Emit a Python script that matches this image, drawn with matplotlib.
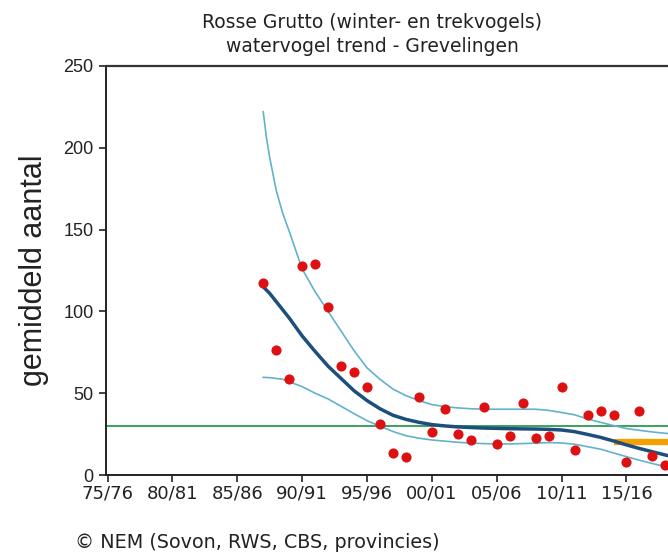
import matplotlib
matplotlib.use("Agg")
import matplotlib.pyplot as plt

# yearly counts (season start year)
YEARS = list(range(1987, 2019))
COUNTS = [117.5, 76.4, 58.7, 127.8, 129.0, 102.9, 66.6, 62.8, 54.0, 31.3,
          13.6, 11.2, 47.5, 26.3, 40.2, 25.0, 21.4, 41.4, 19.0, 23.8,
          44.2, 22.6, 23.8, 54.0, 15.3, 36.6, 38.9, 36.6, 7.8, 38.9,
          11.6, 6.2]

# trend with upper / lower band
TREND_X = [1987, 1987.25, 1987.5, 1988, 1988.5, 1989, 1990, 1991, 1992, 1993, 1994,
           1995, 1996, 1997, 1998, 1999, 2000, 2001, 2002, 2003, 2004,
           2005, 2006, 2007, 2008, 2009, 2010, 2011, 2012, 2013, 2014,
           2015, 2016, 2017, 2018, 2019]
TREND = [115, 113, 111, 106, 101, 96, 85, 75.5, 66.5, 59, 51.5,
         45.5, 40.5, 36.5, 34, 32.2, 30.8, 30, 29.4, 29, 28.7,
         28.5, 28.3, 28.2, 28.1, 27.9, 27.5, 26.5, 24.8, 23, 20.8,
         18.4, 16.2, 14.2, 12.2, 10.5]
UPPER = [222, 206, 194, 174, 160, 149, 126, 112, 100, 88, 76,
         65.5, 58.5, 52.5, 48.5, 45.5, 43, 41.8, 41, 40.5, 40.2,
         40.2, 40.2, 40.2, 40.2, 39.5, 38.2, 36.8, 34.2, 32.2, 30.2,
         28.4, 27.3, 26.3, 25.5, 24.8]
LOWER = [59.7, 59.6, 59.5, 59, 58.5, 57, 54, 50, 46.5, 42, 37.5,
         33.2, 29.8, 26.6, 24, 22.5, 21.4, 20.7, 20, 19.5, 19.2,
         19, 19, 19.2, 19.5, 19.8, 19.6, 18.8, 17.3, 15.8, 13.5,
         11.2, 9, 7, 5.1, 3.5]

REFERENCE_LEVEL = 30
TARGET_X = [2014, 2019]
TARGET_LEVEL = 20

TICK_YEARS = list(range(1975, 2020, 5))
TICK_LABELS = ["75/76", "80/81", "85/86", "90/91", "95/96", "00/01", "05/06", "10/11", "15/16"]
Y_TICKS = [0, 50, 100, 150, 200, 250]

fig = plt.figure(figsize=(6.68, 5.55), dpi=100)
ax = fig.add_axes([106 / 668, 80 / 555, 1 - 106 / 668, 409 / 555])

ax.axhline(REFERENCE_LEVEL, color="#2e9a50", lw=1.3, zorder=2)
ax.plot(TARGET_X, [TARGET_LEVEL] * len(TARGET_X), color="#f5a000", lw=4.5,
        solid_capstyle="butt", zorder=3)
ax.plot(TREND_X, UPPER, color="#62b2cc", lw=1.2, zorder=3)
ax.plot(TREND_X, LOWER, color="#62b2cc", lw=1.2, zorder=3)
ax.plot(TREND_X, TREND, color="#1d4f7c", lw=2.5, zorder=4)
ax.plot(YEARS, COUNTS, "o", color="#dd1111", ms=7.3, mec="none", zorder=5)

ax.set_xlim(1974.88, 2018.2)
ax.set_ylim(0, 250)
ax.set_xticks(TICK_YEARS)
ax.set_xticklabels(TICK_LABELS)
ax.set_yticks(Y_TICKS)

for label in ax.get_xticklabels():
    label.set_fontfamily("DejaVu Sans")
    label.set_fontsize(13)
for label in ax.get_yticklabels():
    label.set_fontfamily("Liberation Sans")
    label.set_fontsize(13)
ax.tick_params(axis="both", direction="out", length=5, width=1.2, color="#222222",
               labelcolor="#222222")
ax.tick_params(axis="y", pad=4)
ax.tick_params(axis="x", pad=2)

ax.spines["right"].set_visible(False)
ax.spines["top"].set_color("#333333")
ax.spines["top"].set_linewidth(1.6)
for side in ("left", "bottom"):
    ax.spines[side].set_color("#222222")
    ax.spines[side].set_linewidth(1.4)

ax.set_ylabel("gemiddeld aantal", fontsize=22, family="Liberation Sans", color="#222222", labelpad=10)

fig.text(372 / 668, 1 - 22 / 555, "Rosse Grutto (winter- en trekvogels)", ha="center", va="center",
         fontsize=13.5, family="DejaVu Sans", color="#222222")
fig.text(372 / 668, 1 - 46 / 555, "watervogel trend - Grevelingen", ha="center", va="center",
         fontsize=13.5, family="DejaVu Sans", color="#222222")
fig.text(75 / 668, 1 - 543 / 555, "\u00a9 NEM (Sovon, RWS, CBS, provincies)", ha="left", va="center",
         fontsize=13.8, family="DejaVu Sans", color="#222222")

fig.savefig("out.png", dpi=100, facecolor="white")
